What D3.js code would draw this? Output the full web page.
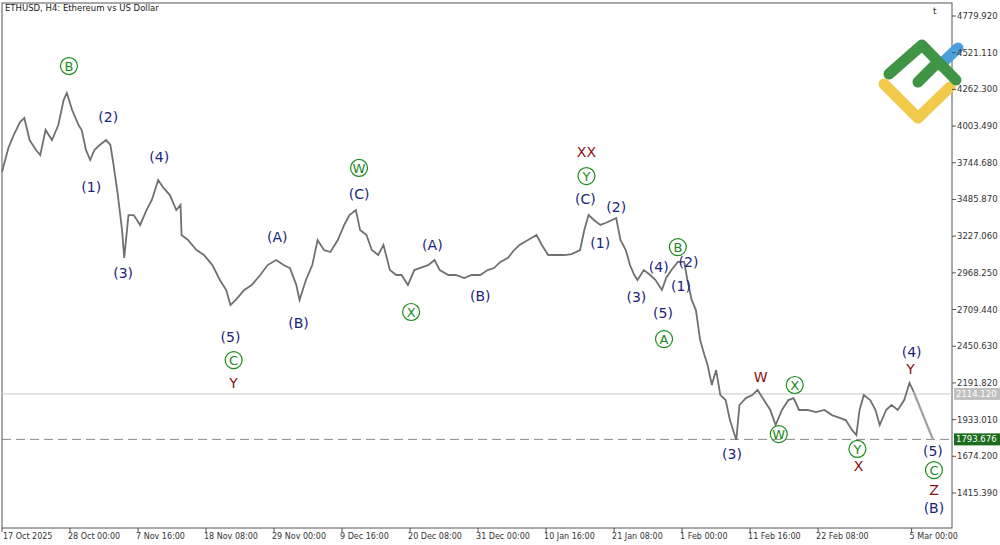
<!DOCTYPE html>
<html><head><meta charset="utf-8">
<script src="https://cdn.jsdelivr.net/npm/d3@7/dist/d3.min.js"></script>
<style>body{margin:0;background:#fff}svg{display:block}text{font-family:Tahoma,"DejaVu Sans",sans-serif}</style>
</head><body><svg id="c" width="1000" height="545"></svg>
<script>
const barIdx=[0,6,11,17,21,26,32,36,41,47,53,58,61,66,72,75,79,83,87,92,98,102,105,109,113,115,119,124,130,136,141,147,152,158,164,168,169,175,183,190,198,205,211,215,220,228,235,243,250,258,265,271,277,280,286,292,297,303,309,316,322,327,333,337,343,348,354,359,365,371,376,382,388,393,401,407,412,420,427,435,442,450,457,463,469,476,482,487,495,503,508,514,521,529,536,544,548,552,557,563,568,574,578,582,587,591,595,598,604,610,615,621,625,630,636,642,645,649,653,657,661,664,668,672,676,681,685,691,694,700,706,711,717,723,728,734,740,745,750,758,766,774,781,789,794,800,804,807,811,817,822,826,832,837,843,849,852,854,858];
const closes=[3679,3849,3940,4032,4060,3905,3835,3799,3976,3905,4011,4187,4237,4117,4011,3976,3835,3764,3835,3870,3905,3870,3729,3517,3270,3073,3376,3376,3306,3411,3482,3623,3567,3517,3411,3447,3235,3200,3129,3094,3023,2918,2847,2741,2777,2847,2882,2953,3023,3059,3023,3002,2882,2777,2918,3023,3200,3129,3115,3200,3306,3376,3411,3270,3235,3129,3094,3165,2988,2953,2953,2882,2988,3002,3023,3059,2988,2953,2953,2932,2953,2953,2988,3002,3045,3073,3129,3165,3200,3235,3165,3094,3094,3094,3101,3129,3270,3376,3341,3306,3320,3341,3355,3200,3129,3023,2953,2918,2988,2953,2918,2847,2932,2988,3045,3045,2918,2777,2706,2494,2389,2318,2177,2283,2106,2071,1930,1789,2036,2085,2106,2142,2071,2001,1895,2001,2071,2085,2001,2001,1986,2001,1965,1944,1930,1859,1824,2001,2106,2071,2001,1895,2001,2036,2001,2071,2142,2192,2128];
const projection=[[858,2128],[876,1794]];
const priceTicks=[4779.92,4521.11,4262.30,4003.49,3744.68,3485.87,3227.06,2968.25,2709.44,2450.63,2191.82,1933.01,1674.20,1415.39];
const timeTickIdx=[0,64,128,192,256,320,384,448,512,576,640,704,768,856];
const timeTickLabels=["17 Oct 2025","28 Oct 00:00","7 Nov 16:00","18 Nov 08:00","29 Nov 00:00","9 Dec 16:00","20 Dec 08:00","31 Dec 00:00","10 Jan 16:00","21 Jan 08:00","1 Feb 00:00","11 Feb 16:00","22 Feb 08:00","5 Mar 00:00"];
const bidPrice=2114.12, targetPrice=1793.676;
const waveLabels=[["B",63,4427,"g"],["(2)",100,4067,"b"],["(1)",84,3574,"b"],["(4)",148,3785,"b"],["(3)",114,2967,"b"],["(5)",215,2515,"b"],["C",218,2353,"g"],["Y",218,2191,"r"],
["(A)",259,3221,"b"],["(B)",279,2614,"b"],["W",336,3708,"g"],["(C)",336,3524,"b"],["X",385,2692,"g"],["(A)",405,3165,"b"],["(B)",450,2805,"b"],
["XX",550,3821,"r"],["Y",550,3651,"g"],["(C)",549,3489,"b"],["(2)",578,3433,"b"],["(1)",563,3179,"b"],["B",636,3150,"g"],["(4)",618,3009,"b"],["(2)",646,3045,"b"],["(3)",597,2798,"b"],["(1)",639,2875,"b"],["(5)",622,2685,"b"],["A",623,2501,"g"],
["W",714,2233,"r"],["X",746,2177,"g"],["W",731,1831,"g"],["(3)",687,1690,"b"],["Y",805,1726,"g"],["X",806,1606,"r"],["(4)",856,2410,"b"],["Y",855,2290,"r"],["(5)",876,1711,"b"],["C",877,1577,"g"],["Z",877,1436,"r"],["(B)",877,1309,"b"]];

const svg=d3.select("#c");
const L=2,R=952,T=3,B=528;
const x=d3.scaleLinear().domain([0,894]).range([L,R]);
const y=d3.scaleLinear().domain([1415.39,4779.92]).range([493,16]);

svg.append("rect").attr("x",L).attr("y",T).attr("width",R-L).attr("height",B-T).attr("fill","none").attr("stroke","#555");
svg.append("text").attr("x",5).attr("y",11).attr("font-size",8.5).attr("fill","#222").text("ETHUSD, H4:  Ethereum vs US Dollar");

svg.append("line").attr("x1",L).attr("x2",R).attr("y1",y(bidPrice)).attr("y2",y(bidPrice)).attr("stroke","#c8c8c8");
svg.append("line").attr("x1",L).attr("x2",R).attr("y1",y(targetPrice)).attr("y2",y(targetPrice)).attr("stroke","#888").attr("stroke-dasharray","9,5");

const pts=barIdx.map((b,i)=>[b,closes[i]]);
svg.append("path").datum(pts).attr("d",d3.line().x(d=>x(d[0])).y(d=>y(d[1]))).attr("fill","none").attr("stroke","#707070").attr("stroke-width",1.8);
svg.append("path").datum(projection).attr("d",d3.line().x(d=>x(d[0])).y(d=>y(d[1]))).attr("fill","none").attr("stroke","#a0a0a0").attr("stroke-width",2.2);

// logo (over the frame, as in reference)
const lg=svg.append("g").attr("fill","none").attr("stroke-linecap","round").attr("stroke-linejoin","round").attr("stroke-width",11);
lg.append("path").attr("d","M940,65 L958,48").attr("stroke","#4a9fdc");
lg.append("path").attr("d","M884,84 L918,118 L950,87").attr("stroke","#f1c94b");
lg.append("path").attr("d","M889,74 L922,45 L956,80").attr("stroke","#3f9446");
lg.append("path").attr("d","M918,82 L938,62").attr("stroke","#3f9446");

const ay=svg.append("g");
priceTicks.forEach(p=>{
  ay.append("line").attr("x1",R).attr("x2",R+4).attr("y1",y(p)).attr("y2",y(p)).attr("stroke","#555");
  ay.append("text").attr("x",R+5).attr("y",y(p)+3).attr("font-size",8.5).attr("fill","#333").text(p.toFixed(3));
});
[[bidPrice,"#c0c0c0","#fff"],[targetPrice,"#1d6b1d","#fff"]].forEach(([p,bg,fg])=>{
  ay.append("rect").attr("x",R+2).attr("y",y(p)-6).attr("width",46).attr("height",12).attr("fill",bg);
  ay.append("text").attr("x",R+4).attr("y",y(p)+3).attr("font-size",8.5).attr("fill",fg).text(p.toFixed(3));
});
timeTickIdx.forEach((t,i)=>{
  svg.append("line").attr("x1",x(t)).attr("x2",x(t)).attr("y1",B).attr("y2",B+4).attr("stroke","#555");
  svg.append("text").attr("x",x(t)+(i==0?1:-2)).attr("y",539).attr("font-size",8).attr("fill","#333").text(timeTickLabels[i]);
});
svg.append("text").attr("x",933).attr("y",14).attr("font-size",9).attr("fill","#333").text("t");

waveLabels.forEach(([t,b,p,k])=>{
  const cx=x(b),cy=y(p);
  if(k==="g"){
    svg.append("circle").attr("cx",cx).attr("cy",cy).attr("r",8.5).attr("fill","none").attr("stroke","#1a8a1a").attr("stroke-width",1.2);
    svg.append("text").attr("x",cx).attr("y",cy+5).attr("text-anchor","middle").attr("font-size",13).attr("fill","#1a8a1a").text(t);
  } else {
    svg.append("text").attr("x",cx).attr("y",cy+5).attr("text-anchor","middle").attr("font-size",14)
      .attr("fill",k==="r"?"#8b0f0f":"#1a237e").text(t);
  }
});
</script></body></html>
